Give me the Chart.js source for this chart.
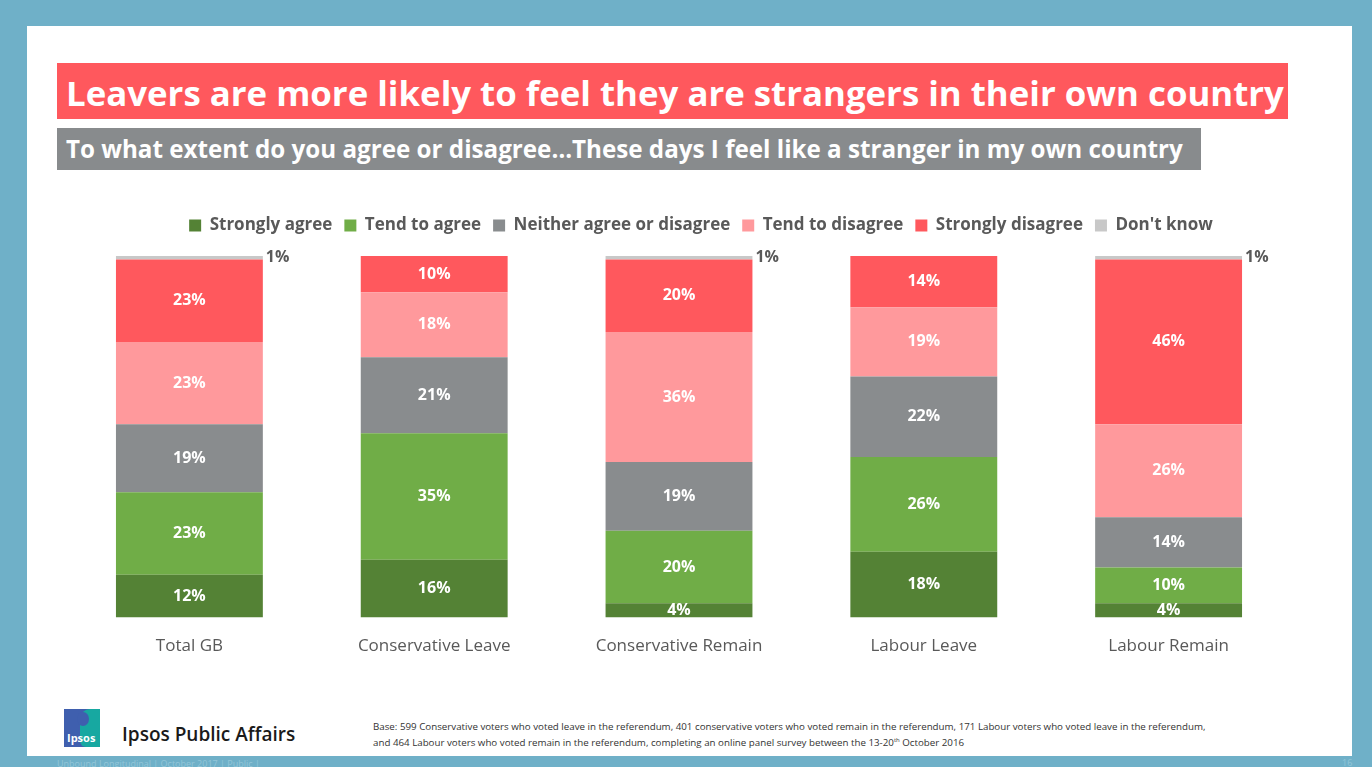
<!DOCTYPE html>
<html>
<head>
<meta charset="utf-8">
<script src="https://cdn.jsdelivr.net/npm/chart.js@4/dist/chart.umd.min.js"></script>
<style>
  html, body { margin: 0; padding: 0; }
  body { width: 1372px; height: 767px; background: #6fb0c8; position: relative; overflow: hidden; font-family: "Open Sans", sans-serif; }
  #slide { position: absolute; left: 27px; top: 26px; width: 1325px; height: 730px; background: #fff; }
  .bar { position: absolute; color: #fff; font-weight: bold; white-space: nowrap; box-sizing: border-box; }
  #title { left: 57px; top: 63px; width: 1231px; height: 56px; background: #ff585d; font-size: 34.8px; line-height: 60px; padding-left: 9px; }
  #subtitle { left: 57px; top: 128px; width: 1144px; height: 42px; background: #888b8d; font-size: 24.2px; line-height: 42px; padding-left: 9px; }
  #chartBox { position: absolute; left: 0; top: 201px; width: 1372px; height: 473px; }
  #logo { position: absolute; left: 64px; top: 709px; width: 36px; height: 38px; background: #3f5fae; overflow: hidden; }
  #logo .teal { position: absolute; left: 16px; top: 0; width: 24px; height: 38px; background: #17a8a1; border-radius: 10px 0 0 6px; }
  #logo .head { position: absolute; left: 13px; top: 3px; width: 12px; height: 14px; background: #3f5fae; border-radius: 50%; }
  #logo span { position: absolute; left: 3px; bottom: 2px; color: #fff; font-size: 11px; font-weight: bold; }
  #brand { position: absolute; left: 122px; top: 721px; font-size: 19px; font-weight: 600; color: #1a1a1a; }
  #base { position: absolute; left: 373px; top: 719px; font-size: 9.75px; line-height: 16px; color: #333; white-space: nowrap; }
  #base sup { font-size: 6px; line-height: 0; }
  #foot { position: absolute; left: 57px; top: 757px; font-size: 9px; color: #93c6d8; }
  #page { position: absolute; left: 1342px; top: 756px; font-size: 9px; color: #93c6d8; }
</style>
</head>
<body>
<div id="slide"></div>
<div class="bar" id="title">Leavers are more likely to feel they are strangers in their own country</div>
<div class="bar" id="subtitle">To what extent do you agree or disagree…These days I feel like a stranger in my own country</div>
<div id="chartBox"><canvas id="stackChart"></canvas></div>
<div id="logo"><div class="teal"></div><div class="head"></div><span>Ipsos</span></div>
<div id="brand">Ipsos Public Affairs</div>
<div id="base">Base: 599 Conservative voters who voted leave in the referendum, 401 conservative voters who voted remain in the referendum, 171 Labour voters who voted leave in the referendum,<br>and 464 Labour voters who voted remain in the referendum, completing an online panel survey between the 13-20<sup>th</sup> October 2016</div>
<div id="foot">Unbound Longitudinal | October 2017 | Public |</div>
<div id="page">16</div>
<script>
const categories = ["Total GB", "Conservative Leave", "Conservative Remain", "Labour Leave", "Labour Remain"];
const stronglyAgree = [12, 16, 4, 18, 4];
const tendToAgree = [23, 35, 20, 26, 10];
const neither = [19, 21, 19, 22, 14];
const tendToDisagree = [23, 18, 36, 19, 26];
const stronglyDisagree = [23, 10, 20, 14, 46];
const dontKnow = [1, 0, 1, 0, 1];

const seriesNames = ["Strongly agree", "Tend to agree", "Neither agree or disagree", "Tend to disagree", "Strongly disagree", "Don't know"];
const seriesValues = [stronglyAgree, tendToAgree, neither, tendToDisagree, stronglyDisagree, dontKnow];
const seriesColors = ['#548235', '#70ad47', '#898c8e', '#ff999c', '#ff585d', '#c8c8c8'];

// each column is scaled to 100% like a 100% stacked bar
const totals = categories.map((c, i) => seriesValues.reduce((s, arr) => s + arr[i], 0));

const datasets = seriesNames.map((name, k) => ({
    label: name,
    data: seriesValues[k].map((v, i) => v / totals[i] * 100),
    raw: seriesValues[k],
    backgroundColor: seriesColors[k],
    borderWidth: 0
}));

const barLabels = {
    id: 'barLabels',
    afterDatasetsDraw(chart) {
        const ctx = chart.ctx;
        ctx.save();
        chart.data.datasets.forEach((ds, k) => {
            const meta = chart.getDatasetMeta(k);
            meta.data.forEach((bar, i) => {
                const v = ds.raw[i];
                if (!v) return;
                ctx.font = 'bold 16px "Open Sans"';
                ctx.textBaseline = 'middle';
                if (k === seriesNames.length - 1) {
                    ctx.fillStyle = '#595959';
                    ctx.textAlign = 'left';
                    ctx.fillText(v + '%', bar.x + bar.width / 2 + 3, bar.y + 1);
                } else {
                    ctx.fillStyle = '#ffffff';
                    ctx.textAlign = 'center';
                    ctx.fillText(v + '%', bar.x, (bar.y + bar.base) / 2);
                }
            });
        });
        ctx.restore();
    }
};

// extra room under the legend, and nudge it right of the plot centre
const legendGap = {
    id: 'legendGap',
    beforeInit(chart) {
        const fit = chart.legend.fit;
        chart.legend.fit = function () {
            fit.bind(chart.legend)();
            this.height += 12;
        };
    },
    afterLayout(chart) {
        chart.legend.left += 22;
        chart.legend.right += 22;
    }
};

new Chart(document.getElementById('stackChart'), {
    type: 'bar',
    data: { labels: categories, datasets: datasets },
    plugins: [barLabels, legendGap],
    options: {
        responsive: true,
        maintainAspectRatio: false,
        animation: false,
        layout: { padding: { left: 67, right: 81, top: 4, bottom: 0 } },
        datasets: { bar: { categoryPercentage: 1, barPercentage: 0.6 } },
        plugins: {
            tooltip: { enabled: false },
            legend: {
                position: 'top',
                labels: {
                    color: '#595959',
                    font: { family: 'Open Sans', size: 17, weight: 'bold' },
                    boxWidth: 12,
                    boxHeight: 12,
                    padding: 12
                }
            }
        },
        scales: {
            x: {
                stacked: true,
                grid: { display: false, drawTicks: false },
                border: { display: false },
                ticks: { color: '#595959', font: { family: 'Open Sans', size: 17 }, padding: 18 }
            },
            y: {
                stacked: true,
                display: false,
                min: 0,
                max: 100
            }
        }
    }
});
</script>
</body>
</html>
